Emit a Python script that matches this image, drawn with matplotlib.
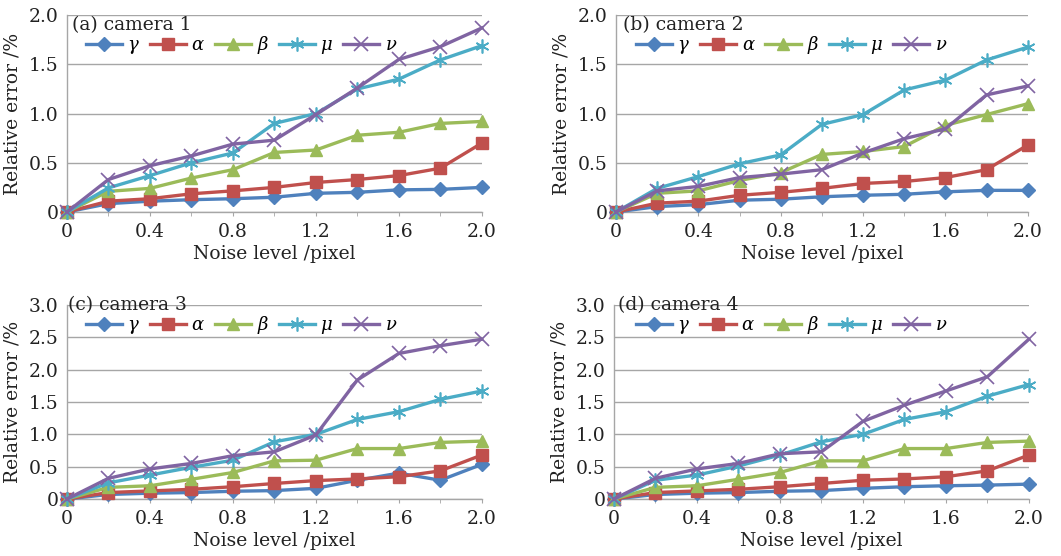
import matplotlib
matplotlib.use('Agg')
import matplotlib.pyplot as plt
from matplotlib.ticker import MultipleLocator, FixedLocator

plt.rcParams['font.family'] = ['DejaVu Serif']
plt.rcParams['mathtext.fontset'] = 'dejavuserif'

# Noise level (pixel)
noise = [0, 0.2, 0.4, 0.6, 0.8, 1.0, 1.2, 1.4, 1.6, 1.8, 2.0]

# camera 1
cam1_gamma = [0, 0.085, 0.11, 0.125, 0.135, 0.15, 0.19, 0.20, 0.225, 0.23, 0.25]
cam1_alpha = [0, 0.11, 0.135, 0.185, 0.215, 0.25, 0.30, 0.33, 0.37, 0.445, 0.70]
cam1_beta = [0, 0.21, 0.24, 0.345, 0.43, 0.605, 0.63, 0.78, 0.81, 0.90, 0.92]
cam1_mu = [0, 0.245, 0.37, 0.50, 0.60, 0.90, 1.00, 1.25, 1.35, 1.545, 1.69]
cam1_nu = [0, 0.33, 0.47, 0.57, 0.69, 0.73, 0.99, 1.26, 1.55, 1.68, 1.87]

# camera 2
cam2_gamma = [0, 0.055, 0.075, 0.12, 0.13, 0.155, 0.17, 0.18, 0.205, 0.22, 0.22]
cam2_alpha = [0, 0.09, 0.11, 0.17, 0.20, 0.24, 0.29, 0.31, 0.35, 0.43, 0.68]
cam2_beta = [0, 0.19, 0.215, 0.32, 0.40, 0.585, 0.615, 0.665, 0.88, 0.99, 1.10]
cam2_mu = [0, 0.24, 0.36, 0.49, 0.58, 0.89, 0.99, 1.24, 1.34, 1.545, 1.675]
cam2_nu = [0, 0.215, 0.26, 0.35, 0.385, 0.43, 0.60, 0.745, 0.845, 1.19, 1.28]

# camera 3
cam3_gamma = [0, 0.07, 0.09, 0.10, 0.12, 0.13, 0.165, 0.29, 0.40, 0.29, 0.535]
cam3_alpha = [0, 0.10, 0.125, 0.15, 0.19, 0.24, 0.285, 0.31, 0.345, 0.435, 0.68]
cam3_beta = [0, 0.18, 0.205, 0.305, 0.41, 0.59, 0.60, 0.78, 0.78, 0.875, 0.895]
cam3_mu = [0, 0.25, 0.37, 0.49, 0.60, 0.885, 1.00, 1.23, 1.35, 1.54, 1.67]
cam3_nu = [0, 0.32, 0.465, 0.55, 0.67, 0.73, 0.99, 1.84, 2.25, 2.37, 2.47]

# camera 4
cam4_gamma = [0, 0.07, 0.09, 0.10, 0.12, 0.13, 0.165, 0.19, 0.205, 0.215, 0.23]
cam4_alpha = [0, 0.10, 0.125, 0.15, 0.19, 0.24, 0.29, 0.31, 0.345, 0.435, 0.68]
cam4_beta = [0, 0.18, 0.205, 0.305, 0.41, 0.59, 0.59, 0.78, 0.78, 0.875, 0.895]
cam4_mu = [0, 0.29, 0.37, 0.51, 0.68, 0.885, 1.00, 1.23, 1.35, 1.59, 1.77]
cam4_nu = [0, 0.32, 0.465, 0.55, 0.70, 0.73, 1.20, 1.45, 1.67, 1.89, 2.47]

labels = [r'$\gamma$', r'$\alpha$', r'$\beta$', r'$\mu$', r'$\nu$']
colors = ['#4F81BD', '#C0504D', '#9BBB59', '#4BACC6', '#8064A2']
markers = ['D', 's', '^', (6, 2, 0), 'x']
msizes = [7, 9, 9, 10, 10]

# title, series, y max, axes rect, title pos, legend anchor
panels = [
    ('(a) camera 1', [cam1_gamma, cam1_alpha, cam1_beta, cam1_mu, cam1_nu], 2.0,
     [0.0631, 0.6187, 0.391, 0.354], (0.012, 0.95), (0.045, 0.848)),
    ('(b) camera 2', [cam2_gamma, cam2_alpha, cam2_beta, cam2_mu, cam2_nu], 2.0,
     [0.5806, 0.6187, 0.388, 0.354], (0.016, 0.95), (0.048, 0.848)),
    ('(c) camera 3', [cam3_gamma, cam3_alpha, cam3_beta, cam3_mu, cam3_nu], 3.0,
     [0.0631, 0.1025, 0.391, 0.349], (0.002, 1.0), (0.045, 0.897)),
    ('(d) camera 4', [cam4_gamma, cam4_alpha, cam4_beta, cam4_mu, cam4_nu], 3.0,
     [0.5787, 0.1025, 0.391, 0.349], (0.01, 1.0), (0.052, 0.897)),
]

fig = plt.figure(figsize=(10.61, 5.56), dpi=100)
grid_c = '#a6a6a6'
txt_c = '#222222'

for title, series, ymax, pos, tpos, lpos in panels:
    ax = fig.add_axes(pos)
    for vals, lab, c, m, ms in zip(series, labels, colors, markers, msizes):
        lw_m = 1.2 if m == 'x' or isinstance(m, tuple) else 1.0
        ax.plot(noise, vals, color=c, lw=2.4, marker=m, ms=ms, mew=lw_m,
                mec=c, label=lab, clip_on=False, zorder=3)
    ax.set_xlim(0, 2.0)
    ax.set_ylim(0, ymax)
    ax.xaxis.set_major_locator(FixedLocator([0, 0.4, 0.8, 1.2, 1.6, 2.0]))
    ax.xaxis.set_minor_locator(MultipleLocator(0.2))
    ax.set_xticklabels(['0', '0.4', '0.8', '1.2', '1.6', '2.0'])
    yt = [i * 0.5 for i in range(int(ymax / 0.5) + 1)]
    ax.set_yticks(yt)
    ax.set_yticklabels(['0' if v == 0 else f'{v:.1f}' for v in yt])
    ax.grid(axis='y', color=grid_c, lw=1.0)
    ax.set_axisbelow(True)
    for s in ['top', 'right']:
        ax.spines[s].set_visible(False)
    for s in ['left', 'bottom']:
        ax.spines[s].set_color(grid_c)
        ax.spines[s].set_linewidth(1.0)
    ax.tick_params(axis='both', which='both', colors=grid_c, labelcolor=txt_c,
                   labelsize=13.5, length=3)
    ax.tick_params(axis='x', which='both', pad=5)
    ax.tick_params(axis='y', length=0, pad=6)
    ax.set_xlabel('Noise level /pixel', fontsize=13.5, color=txt_c, labelpad=3)
    ax.set_ylabel('Relative error /%', fontsize=13.5, color=txt_c, labelpad=5)
    ax.text(tpos[0], tpos[1], title, transform=ax.transAxes, fontsize=13.5,
            color=txt_c, ha='left', va='center', zorder=4)
    ax.legend(loc='center left', bbox_to_anchor=lpos, ncol=5,
              frameon=False, fontsize=13, handlelength=2.0,
              handletextpad=0.3, columnspacing=0.55, borderaxespad=0,
              borderpad=0)

fig.savefig('out.png', dpi=100)
